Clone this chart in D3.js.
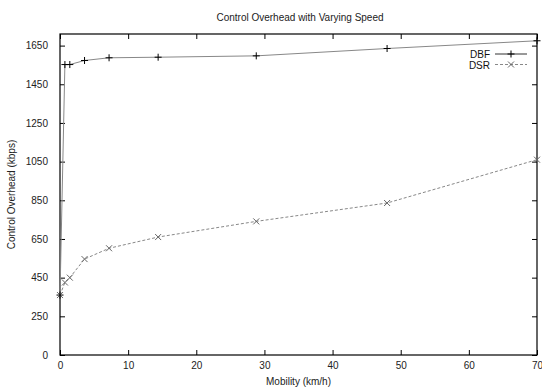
<!DOCTYPE html>
<html>
<head>
<meta charset="utf-8">
<script src="https://cdn.jsdelivr.net/npm/d3@7"></script>
<style>
    body { margin: 0; background: #fff; }
    svg { display: block; font-family: "Liberation Sans", Arial, sans-serif; }
    .tick text { fill: #222; font-size: 10px; }
    .domain { display: none; }
</style>
</head>
<body>
<div id="chart"></div>
<script>
// mobility values (km/h)
const speeds = [0, 0.72, 1.44, 3.6, 7.2, 14.4, 28.8, 48, 70];
const dbf = [360, 1552, 1552, 1573, 1587, 1590, 1597, 1635, 1675];
const dsr = [360, 425, 450, 546, 602, 660, 741, 836, 1060];

const xTicks = [0, 10, 20, 30, 40, 50, 60, 70];
const yTicks = [50, 250, 450, 650, 850, 1050, 1250, 1450, 1650];
const yTickLabels = ['0', '250', '450', '650', '850', '1050', '1250', '1450', '1650'];

const width = 542, height = 387;
const padding = {left: 60, top: 34, right: 5, bottom: 32};
const w = width - padding.left - padding.right,
      h = height - padding.top - padding.bottom;

const svg = d3.select('#chart').append('svg')
    .attr('width', width)
    .attr('height', height);

const g = svg.append('g')
    .attr('transform', `translate(${padding.left}, ${padding.top})`);

const xScale = d3.scaleLinear().domain([0, 70]).range([0, w]);
const yScale = d3.scaleLinear().domain([50, 1710]).range([h, 0]);

// ticks inward, mirrored on top and right (gnuplot style)
g.append('g')
    .attr('transform', `translate(0, ${h})`)
    .call(d3.axisBottom(xScale).tickValues(xTicks).tickSize(-5).tickPadding(7))
    .call(s => s.selectAll('.tick line').attr('stroke', '#000'));
g.append('g')
    .call(d3.axisTop(xScale).tickValues(xTicks).tickSize(-5).tickFormat(''))
    .call(s => s.selectAll('.tick line').attr('stroke', '#000'));
g.append('g')
    .call(d3.axisLeft(yScale).tickValues(yTicks).tickSize(-5).tickPadding(12)
        .tickFormat((d, i) => yTickLabels[i]))
    .call(s => s.selectAll('.tick line').attr('stroke', '#000'));
g.append('g')
    .attr('transform', `translate(${w}, 0)`)
    .call(d3.axisRight(yScale).tickValues(yTicks).tickSize(-5).tickFormat(''))
    .call(s => s.selectAll('.tick line').attr('stroke', '#000'));

g.append('rect')
    .attr('width', w).attr('height', h)
    .attr('fill', 'none').attr('stroke', '#000').attr('stroke-width', 1.2);

const line = d3.line()
    .x(d => xScale(d[0]))
    .y(d => yScale(d[1]));

const dbfData = speeds.map((s, i) => [s, dbf[i]]);
const dsrData = speeds.map((s, i) => [s, dsr[i]]);

g.append('path')
    .datum(dbfData)
    .attr('d', line)
    .attr('fill', 'none').attr('stroke', '#888').attr('stroke-width', 1);
g.append('path')
    .datum(dsrData)
    .attr('d', line)
    .attr('fill', 'none').attr('stroke', '#888').attr('stroke-width', 1)
    .attr('stroke-dasharray', '3,2');

function drawPlus(sel, color) {
    sel.append('path')
        .attr('d', 'M-3.5,0H3.5M0,-3.5V3.5')
        .attr('stroke', color).attr('stroke-width', 1).attr('fill', 'none');
}
function drawX(sel, color) {
    sel.append('path')
        .attr('d', 'M-3,-3L3,3M-3,3L3,-3')
        .attr('stroke', color).attr('stroke-width', 1).attr('fill', 'none');
}

g.selectAll('.dsr-pt').data(dsrData).enter().append('g')
    .attr('class', 'dsr-pt')
    .attr('transform', d => `translate(${xScale(d[0])}, ${yScale(d[1])})`)
    .call(drawX, '#666');
g.selectAll('.dbf-pt').data(dbfData).enter().append('g')
    .attr('class', 'dbf-pt')
    .attr('transform', d => `translate(${xScale(d[0])}, ${yScale(d[1])})`)
    .call(drawPlus, '#000');

// legend
const legend = g.append('g').attr('transform', `translate(${w - 47}, 20)`);
legend.append('text').attr('x', 0).attr('y', 4).attr('text-anchor', 'end')
    .attr('font-size', 10).attr('fill', '#111').text('DBF');
legend.append('line').attr('x1', 5).attr('x2', 37).attr('y1', 0).attr('y2', 0)
    .attr('stroke', '#333');
legend.append('g').attr('transform', 'translate(21, 0)').call(drawPlus, '#000');
legend.append('text').attr('x', 0).attr('y', 14.5).attr('text-anchor', 'end')
    .attr('font-size', 10).attr('fill', '#111').text('DSR');
legend.append('line').attr('x1', 5).attr('x2', 37).attr('y1', 10.5).attr('y2', 10.5)
    .attr('stroke', '#888').attr('stroke-dasharray', '3,2');
legend.append('g').attr('transform', 'translate(21, 10.5)').call(drawX, '#666');

// titles
svg.append('text')
    .attr('x', 300).attr('y', 21)
    .attr('text-anchor', 'middle').attr('font-size', 10).attr('fill', '#222')
    .text('Control Overhead with Varying Speed');
svg.append('text')
    .attr('x', padding.left + w / 2).attr('y', 385)
    .attr('text-anchor', 'middle').attr('font-size', 10).attr('fill', '#222')
    .text('Mobility (km/h)');
svg.append('text')
    .attr('transform', `translate(15, ${padding.top + h / 2}) rotate(-90)`)
    .attr('text-anchor', 'middle').attr('font-size', 10).attr('fill', '#222')
    .text('Control Overhead (kbps)');
</script>
</body>
</html>
